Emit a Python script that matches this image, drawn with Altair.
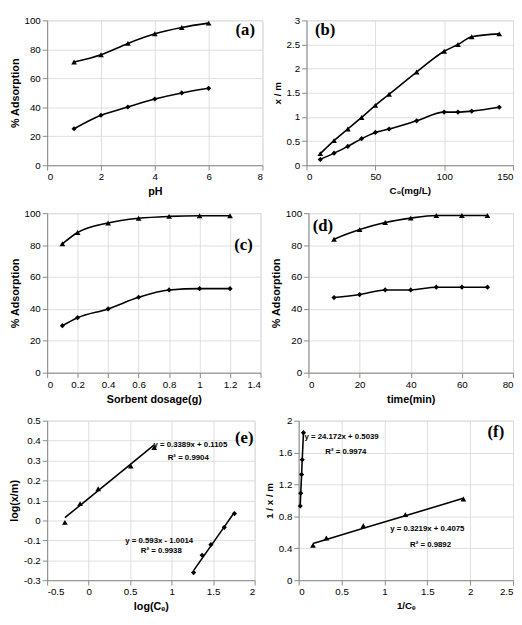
import altair as alt
import pandas as pd

# ---------------- data ----------------
# (a) effect of pH
ph = [1, 2, 3, 4, 5, 6]
a_tri = [71.2, 76.3, 84.1, 90.7, 95.1, 98.1]
a_dia = [25.2, 34.5, 40.2, 45.7, 49.9, 53.1]
# (b) effect of initial concentration
c0 = [10, 20, 30, 40, 50, 60, 80, 100, 110, 120, 140]
b_tri = [0.24, 0.51, 0.75, 0.99, 1.24, 1.47, 1.93, 2.36, 2.50, 2.66, 2.72]
b_dia = [0.12, 0.25, 0.39, 0.55, 0.68, 0.75, 0.92, 1.10, 1.10, 1.12, 1.20]
# (c) effect of sorbent dosage
dose = [0.1, 0.2, 0.4, 0.6, 0.8, 1.0, 1.2]
c_tri = [80.8, 87.9, 93.9, 96.8, 98.0, 98.4, 98.4]
c_dia = [29.5, 34.5, 40.0, 47.3, 51.9, 52.7, 52.7]
# (d) effect of contact time
tmin = [10, 20, 30, 40, 50, 60, 70]
d_tri = [83.7, 89.7, 94.1, 96.9, 98.5, 98.5, 98.5]
d_dia = [47.1, 49.0, 51.9, 51.9, 53.6, 53.6, 53.6]
# (e) Freundlich isotherm
e_tri_x = [-0.286, -0.103, 0.115, 0.507, 0.790]
e_tri_y = [-0.010, 0.084, 0.159, 0.273, 0.365]
e_dia_x = [1.264, 1.367, 1.473, 1.634, 1.757]
e_dia_y = [-0.262, -0.175, -0.122, -0.035, 0.034]
e_coef = {"tri": (0.3389, 0.1105), "dia": (0.593, -1.0014)}
e_eq = ["y = 0.3389x + 0.1105", "R² = 0.9904", "y = 0.593x - 1.0014", "R² = 0.9938"]
# (f) Langmuir isotherm
f_tri_x = [0.167, 0.323, 0.754, 1.244, 1.921]
f_tri_y = [0.438, 0.528, 0.683, 0.822, 1.018]
f_dia_x = [0.0176, 0.0243, 0.0340, 0.0416, 0.0557]
f_dia_y = [0.93, 1.09, 1.325, 1.51, 1.85]
f_coef = {"tri": (0.3219, 0.4075), "dia": (24.172, 0.5039)}
f_eq = ["y = 24.172x + 0.5039", "R² = 0.9974", "y = 0.3219x + 0.4075", "R² = 0.9892"]

NARROW = "Liberation Sans Narrow, Arial Narrow, Liberation Sans"
SANS = "Liberation Sans, Arial"
SERIF = "Liberation Serif, Times New Roman"
LABEL_EXPR = "replace(toString(datum.value), '−', '-')"


def pts(x_tri, y_tri, x_dia, y_dia):
    return pd.DataFrame({
        "x": list(x_tri) + list(x_dia),
        "y": list(y_tri) + list(y_dia),
        "s": ["tri"] * len(x_tri) + ["dia"] * len(x_dia),
    })


def fit(x_tri, x_dia, coef):
    rows = []
    for s, xs in (("tri", x_tri), ("dia", x_dia)):
        m, b = coef[s]
        for x in xs:
            rows.append({"x": x, "y": m * x + b, "s": s})
    return pd.DataFrame(rows)


def panel(df, xdom, xticks, ydom, yticks, xtitle, ytitle, w, h,
          tag, tag_pos, line_df=None, smooth=True,
          xtfont=SANS, xtsize=11, ytfont=SANS, ytsize=11, notes=None):
    xs = alt.X("x:Q", scale=alt.Scale(domain=xdom, nice=False, zero=False),
               axis=alt.Axis(values=xticks, title=xtitle, labelExpr=LABEL_EXPR,
                             titleFont=xtfont, titleFontSize=xtsize))
    ys = alt.Y("y:Q", scale=alt.Scale(domain=ydom, nice=False, zero=False),
               axis=alt.Axis(values=yticks, title=ytitle, labelExpr=LABEL_EXPR,
                             titleFont=ytfont, titleFontSize=ytsize))
    ldata = df if line_df is None else line_df
    line = alt.Chart(ldata).mark_line(
        color="black", strokeWidth=1.6,
        interpolate="monotone" if smooth else "linear"
    ).encode(x=xs, y=ys, detail="s:N")
    points = alt.Chart(df).mark_point(filled=True, color="black", opacity=1).encode(
        x=xs, y=ys,
        shape=alt.Shape("s:N", scale=alt.Scale(domain=["tri", "dia"],
                                               range=["triangle-up", "diamond"]),
                        legend=None),
        size=alt.Size("s:N", scale=alt.Scale(domain=["tri", "dia"], range=[34, 28]),
                      legend=None),
    )
    layers = [line, points]
    tx, ty = tag_pos
    layers.append(
        alt.Chart(pd.DataFrame({"t": [tag]})).mark_text(
            font=SERIF, fontWeight="bold", fontSize=17, color="black",
            align="center", baseline="middle"
        ).encode(text="t:N", x=alt.value(tx * w), y=alt.value(ty * h))
    )
    if notes:
        for txt, (nx, ny) in notes:
            layers.append(
                alt.Chart(pd.DataFrame({"t": [txt]})).mark_text(
                    font=NARROW, fontWeight="bold", fontSize=8, color="black",
                    align="center", baseline="middle"
                ).encode(text="t:N", x=alt.value(nx * w), y=alt.value(ny * h))
            )
    return alt.layer(*layers).properties(width=w, height=h)


pa = panel(pts(ph, a_tri, ph, a_dia), [0, 8], [0, 2, 4, 6, 8], [0, 100],
           [0, 20, 40, 60, 80, 100], "pH", "% Adsorption", 220, 148,
           "(a)", (0.92, 0.07))
pb = panel(pts(c0, b_tri, c0, b_dia), [0, 150], [0, 50, 100, 150], [0, 3],
           [0, 0.5, 1, 1.5, 2, 2.5, 3], "C₀(mg/L)", "x / m", 211, 148,
           "(b)", (0.09, 0.07), xtfont=NARROW, xtsize=10, ytfont=NARROW, ytsize=10)
pc = panel(pts(dose, c_tri, dose, c_dia), [0, 1.4],
           [0, 0.2, 0.4, 0.6, 0.8, 1, 1.2, 1.4], [0, 100],
           [0, 20, 40, 60, 80, 100], "Sorbent dosage(g)", "% Adsorption", 218, 163,
           "(c)", (0.92, 0.2))
pd_ = panel(pts(tmin, d_tri, tmin, d_dia), [0, 80], [0, 20, 40, 60, 80], [0, 100],
            [0, 20, 40, 60, 80, 100], "time(min)", "% Adsorption", 209, 163,
            "(d)", (0.07, 0.08), xtfont=NARROW, xtsize=11)
pe = panel(pts(e_tri_x, e_tri_y, e_dia_x, e_dia_y), [-0.5, 2],
           [-0.5, 0, 0.5, 1, 1.5, 2], [-0.3, 0.5],
           [-0.3, -0.2, -0.1, 0, 0.1, 0.2, 0.3, 0.4, 0.5],
           "log(Cₑ)", "log(x/m)", 212, 163, "(e)", (0.95, 0.11),
           line_df=fit(e_tri_x, e_dia_x, e_coef), smooth=False,
           notes=list(zip(e_eq, [(0.69, 0.155), (0.68, 0.235),
                                 (0.54, 0.755), (0.55, 0.82)])))
pf = panel(pts(f_tri_x, f_tri_y, f_dia_x, f_dia_y), [0, 2.5],
           [0, 0.5, 1, 1.5, 2, 2.5], [0, 2], [0, 0.4, 0.8, 1.2, 1.6, 2],
           "1/Cₑ", "1 / x / m", 219, 163, "(f)", (0.92, 0.07),
           line_df=fit(f_tri_x, f_dia_x, f_coef), smooth=False,
           xtfont=NARROW, xtsize=10, ytfont=NARROW, ytsize=10,
           notes=list(zip(f_eq, [(0.20, 0.105), (0.22, 0.195),
                                 (0.60, 0.68), (0.615, 0.78)])))

chart = alt.vconcat(
    alt.hconcat(pa, pb, spacing=8),
    alt.hconcat(pc, pd_, spacing=8),
    alt.hconcat(pe, pf, spacing=8),
    spacing=10,
).properties(
    padding={"left": 0, "top": 0, "right": 0, "bottom": 0}
).configure_view(
    stroke="black", strokeWidth=1.2
).configure_axis(
    grid=False, domainColor="black", domainWidth=1.2, tickColor="black",
    tickSize=4, labelColor="black", labelFont=NARROW, labelFontWeight="bold",
    labelFontSize=10, titleColor="black", titleFontWeight="bold", titlePadding=4,
    labelPadding=3
).configure(background="white")

chart.save("out.html", embed_options={"renderer": "svg", "actions": False})
